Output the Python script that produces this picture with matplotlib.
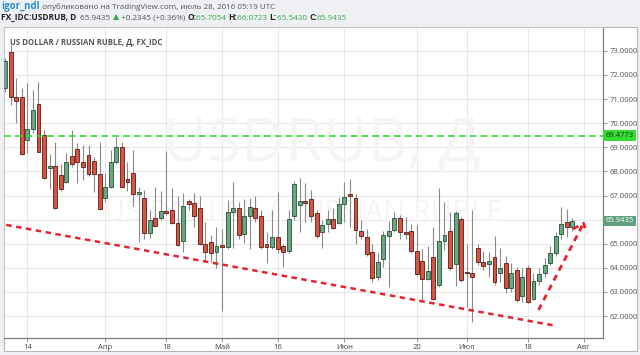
import matplotlib
matplotlib.use('Agg')
import matplotlib.pyplot as plt
from matplotlib.patches import Rectangle
import matplotlib.transforms as mtransforms
import numpy as np
import pandas as pd

# daily candles, business days 2016-03-08 .. 2016-07-28
dates = pd.bdate_range('2016-03-08', '2016-07-28')

opens = [71.45, 72.97, 71.08, 71.10, 69.31, 69.75, 70.79, 69.51, 68.13, 68.24,
         67.85, 67.58, 68.64, 68.92, 68.41, 68.66, 68.45, 67.90, 66.91, 67.37,
         68.38, 69.00, 67.68, 67.95, 67.07, 66.91, 65.43, 66.06, 66.06, 66.37,
         66.40, 65.87, 65.13, 66.78, 66.68, 66.47, 64.99, 65.06, 64.65, 64.95,
         64.85, 66.31, 66.47, 65.41, 66.16, 66.47, 66.13, 64.97, 64.88, 65.30,
         64.90, 64.71, 66.16, 66.61, 66.79, 66.85, 66.29, 65.50, 65.82, 66.02,
         65.88, 66.64, 67.05, 66.89, 65.54, 65.30, 64.65, 63.64, 64.36, 65.33,
         65.57, 66.06, 65.50, 65.54, 64.71, 64.29, 63.54, 64.44, 63.29, 65.13,
         65.53, 64.17, 66.02, 63.82, 63.78, 64.82, 64.26, 64.15, 64.47, 63.80,
         64.22, 63.18, 63.91, 62.83, 64.01, 62.70, 63.46, 63.78, 64.22, 64.61,
         65.39, 65.89, 65.7054]
highs = [72.70, 73.25, 71.87, 71.45, 71.66, 71.38, 71.69, 69.72, 68.71, 69.20,
         68.30, 68.75, 69.72, 69.17, 69.10, 69.10, 68.60, 69.20, 67.93, 68.89,
         69.44, 69.20, 68.37, 68.89, 67.37, 67.23, 66.40, 67.37, 67.20, 68.85,
         67.30, 67.00, 67.10, 66.85, 67.12, 67.00, 65.92, 65.37, 65.71, 65.60,
         66.80, 67.54, 66.75, 66.87, 66.90, 67.00, 66.40, 65.47, 66.40, 67.16,
         65.00, 66.40, 67.60, 67.72, 67.50, 67.23, 66.40, 65.99, 66.40, 66.50,
         66.95, 67.54, 67.68, 67.05, 66.00, 65.60, 65.00, 64.60, 65.54, 65.96,
         66.30, 66.20, 66.10, 65.80, 65.78, 64.80, 64.90, 65.71, 67.33, 66.75,
         66.30, 66.35, 66.10, 65.00, 66.40, 65.00, 64.70, 64.65, 65.34, 64.82,
         64.50, 64.20, 64.05, 64.00, 64.10, 63.80, 64.00, 64.40, 64.90, 65.50,
         66.51, 66.45, 66.0723]
lows = [71.30, 70.76, 70.00, 68.70, 68.76, 69.60, 68.80, 67.70, 67.27, 66.45,
        67.20, 67.50, 68.20, 67.51, 67.65, 67.80, 67.15, 66.40, 66.75, 67.30,
        68.30, 67.30, 67.17, 66.58, 65.09, 65.19, 65.23, 65.70, 66.00, 66.20,
        65.80, 64.90, 64.67, 66.40, 65.71, 64.95, 64.26, 64.26, 63.98, 62.22,
        64.80, 64.82, 65.20, 65.02, 64.80, 65.90, 64.80, 64.20, 64.80, 64.60,
        64.05, 64.60, 66.00, 65.47, 65.90, 65.92, 65.25, 64.82, 65.50, 65.60,
        65.80, 65.90, 65.71, 64.99, 65.20, 64.50, 63.40, 63.50, 64.05, 63.22,
        65.50, 65.20, 65.20, 64.60, 63.70, 62.64, 63.50, 62.65, 63.20, 64.75,
        63.90, 63.25, 63.40, 62.39, 61.77, 64.10, 63.90, 63.60, 63.30, 63.40,
        62.95, 63.00, 62.60, 62.60, 62.55, 62.65, 63.30, 63.60, 64.10, 64.50,
        65.20, 65.30, 65.5430]
closes = [72.56, 71.08, 70.90, 68.73, 69.75, 70.55, 68.82, 67.74, 68.24, 66.47,
          67.27, 68.37, 68.31, 68.41, 68.17, 67.88, 67.90, 66.43, 67.37, 68.38,
          69.00, 67.37, 67.54, 67.05, 67.13, 65.43, 65.99, 65.74, 66.37, 66.27,
          65.85, 64.95, 66.58, 66.65, 66.17, 64.99, 64.65, 64.61, 64.92, 64.85,
          66.31, 66.47, 65.37, 66.13, 66.54, 66.06, 64.85, 64.87, 65.30, 64.77,
          64.65, 66.02, 67.47, 66.79, 66.71, 66.17, 65.32, 65.78, 66.02, 65.65,
          66.64, 66.95, 66.99, 65.57, 65.32, 64.57, 63.57, 64.23, 65.37, 65.53,
          66.06, 65.47, 65.40, 64.71, 63.73, 63.54, 63.87, 62.70, 65.13, 65.37,
          63.98, 66.27, 63.50, 63.79, 63.61, 64.26, 64.08, 64.29, 63.41, 64.01,
          63.18, 63.78, 62.67, 63.64, 62.60, 63.46, 63.74, 64.12, 64.61, 65.32,
          65.82, 65.68, 65.9435]

tick_dates = ['2016-03-14', '2016-04-01', '2016-04-18', '2016-05-02', '2016-05-16',
              '2016-06-01', '2016-06-20', '2016-07-01', '2016-07-18', '2016-08-01']
tick_labels = ['14', 'Апр', '18', 'Май', '16', 'Июн', '20', 'Июл', '18', 'Авг']
price_ticks = [62, 63, 64, 65, 66, 67, 68, 69, 70, 71, 72, 73]

level = 69.4773
last_close = 65.9435

# hand drawn trend lines (bar index, price)
trend_low_x = [0.2, 98.9]
trend_low_y = [65.78, 61.60]
trend_up_x = [95.9, 104.0]
trend_up_y = [62.25, 65.85]
arrow_x = [102.1, 104.0, 104.6]
arrow_y = [65.61, 65.85, 65.44]

up_col, up_edge = '#6ba583', '#225437'
dn_col, dn_edge = '#d75442', '#5b1a13'
wick_col = '#8a8a8c'
bg = '#eef0f3'
W, H = 640, 355

plt.rcParams['font.family'] = ['Open Sans', 'DejaVu Sans']

fig = plt.figure(figsize=(6.4, 3.55), dpi=100, facecolor=bg)
# white chart panel behind the axes
fig.patches.append(Rectangle((4 / W, 1 - 351 / H), 633 / W, 324 / H, transform=fig.transFigure,
                             facecolor='white', edgecolor='#b8b8b8', lw=0.8, zorder=-5))
ax = fig.add_axes([4 / W, 1 - 338 / H, 599 / W, 311 / H])
ax.set_zorder(2)
ax.set_facecolor('white')

x = np.arange(len(dates))
o = np.array(opens)
c = np.array(closes)
up = c >= o
body_lo = np.minimum(o, c)
body_h = np.maximum(np.abs(c - o), 0.03)

ax.vlines(x, lows, highs, color=wick_col, lw=0.8, zorder=3)
ax.bar(x[up], body_h[up], bottom=body_lo[up], width=0.7, color=up_col,
       edgecolor=up_edge, lw=0.6, zorder=4)
ax.bar(x[~up], body_h[~up], bottom=body_lo[~up], width=0.7, color=dn_col,
       edgecolor=dn_edge, lw=0.6, zorder=4)

# watermark
ax.text(0.53, 0.62, 'USDRUB, Д', transform=ax.transAxes, ha='center', va='center',
        fontsize=44, color='#f5f5f5', zorder=1)
ax.text(0.50, 0.40, 'US DOLLAR / RUSSIAN RUBLE', transform=ax.transAxes, ha='center',
        va='center', fontsize=21, color='#f5f5f5', zorder=1)

ax.axhline(level, color='#33dd33', lw=1.2, ls=(0, (4, 2.5)), zorder=5)
ax.plot(trend_low_x, trend_low_y, color='#e4252f', lw=1.8, ls=(0, (2.2, 1.8)), zorder=6)
ax.plot(trend_up_x, trend_up_y, color='#e4252f', lw=2.0, ls=(0, (2.2, 1.8)), zorder=6)
ax.plot(arrow_x, arrow_y, color='#e4252f', lw=2.0, ls=(0, (2.2, 1.8)), zorder=6)

tick_pos = [np.busday_count('2016-03-08', d) for d in tick_dates]
ax.set_xticks(tick_pos)
ax.set_xticklabels(tick_labels)
ax.set_yticks(price_ticks)
# 66.0000 sits under the last price tag
ax.set_yticklabels(['' if p == 66 else '%.4f' % p for p in price_ticks])
ax.set_xlim(-0.2, 107.5)
ax.set_ylim(61.09, 73.99)

ax.yaxis.tick_right()
ax.tick_params(axis='y', length=3, width=0.6, color='#888888', labelsize=5.5,
               labelcolor='#555555', pad=1.5)
ax.tick_params(axis='x', length=3, width=0.6, color='#888888', labelsize=5.5,
               labelcolor='#444444', pad=1.5)
ax.grid(True, color='#e8e8e8', lw=0.8, zorder=0)
ax.set_axisbelow(True)
for side in ['top', 'left']:
    ax.spines[side].set_color('#c8c8c8')
    ax.spines[side].set_linewidth(0.8)
for side in ['right', 'bottom']:
    ax.spines[side].set_color('#7f7f7f')
    ax.spines[side].set_linewidth(0.9)

# price labels on the right scale
trans = mtransforms.blended_transform_factory(ax.transAxes, ax.transData)
ax.text(1.004, level, '%.4f' % level, transform=trans, ha='left', va='center', fontsize=5.5,
        color='#113311', zorder=10, clip_on=False,
        bbox=dict(boxstyle='square,pad=0.25', facecolor='#33dd33', edgecolor='none'))
ax.text(1.004, last_close, '%.4f' % last_close, transform=trans, ha='left', va='center',
        fontsize=5.5, color='white', zorder=10, clip_on=False,
        bbox=dict(boxstyle='square,pad=0.25', facecolor='#5fa07e', edgecolor='none'))

ax.text(0.01, 0.965, 'US DOLLAR / RUSSIAN RUBLE, Д, FX_IDC', transform=ax.transAxes,
        ha='left', va='top', fontsize=5.6, color='#555555', fontweight='bold', zorder=10)

# header lines, drawn piece by piece
renderer = fig.canvas.get_renderer()


def write_line(pieces, x0, y0):
    xpos = x0
    for txt, col, wt, fs in pieces:
        t = fig.text(xpos / W, 1 - y0 / H, txt, color=col, fontweight=wt, fontsize=fs,
                     ha='left', va='center')
        bb = t.get_window_extent(renderer)
        xpos += bb.width


write_line([('igor_ndl', '#2a8fc9', 'bold', 7),
            (' опубликовано на TradingView.com, июль 28, 2016 05:19 UTC', '#555555', 'normal', 5.8)],
           1, 7)
write_line([('FX_IDC:USDRUB, D  ', '#222222', 'bold', 6),
            ('65.9435 ', '#555555', 'normal', 5.9),
            ('▲', '#3aa84a', 'normal', 5.9),
            (' +0.2345 (+0.36%) ', '#555555', 'normal', 5.9),
            ('O:', '#222222', 'bold', 6), ('65.7054 ', '#3aa84a', 'normal', 5.9),
            ('H:', '#222222', 'bold', 6), ('66.0723 ', '#3aa84a', 'normal', 5.9),
            ('L:', '#222222', 'bold', 6), ('65.5430 ', '#3aa84a', 'normal', 5.9),
            ('C:', '#222222', 'bold', 6), ('65.9435', '#3aa84a', 'normal', 5.9)],
           1, 18)

fig.savefig('out.png', dpi=100, facecolor=bg)
